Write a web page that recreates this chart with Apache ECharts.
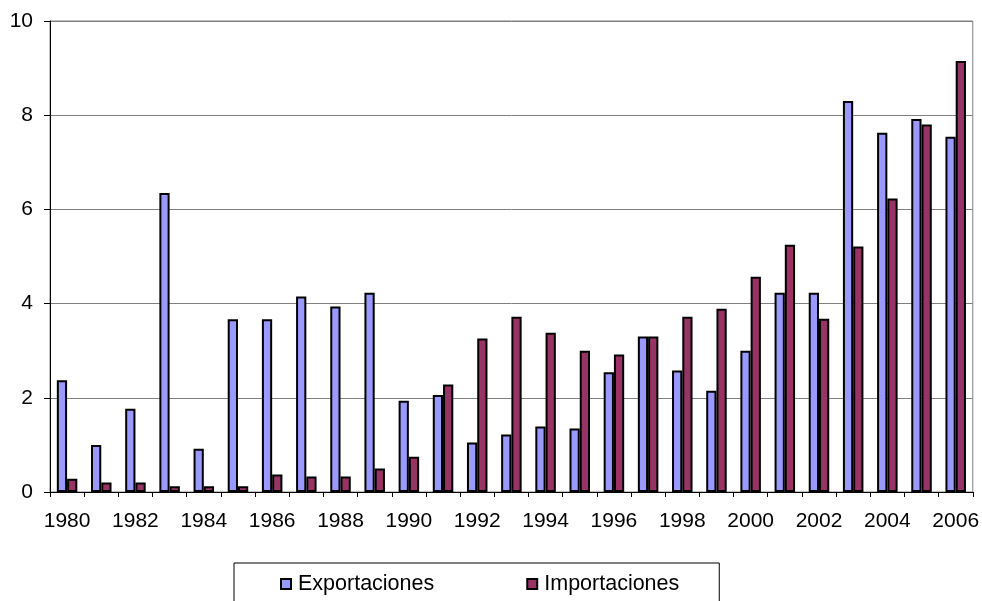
<!DOCTYPE html>
<html>
<head>
<meta charset="utf-8">
<script src="https://cdn.jsdelivr.net/npm/echarts@6/dist/echarts.min.js"></script>
<style>html,body{margin:0;padding:0;background:#fff}#c{width:982px;height:601px}</style>
</head>
<body>
<div id="c"></div>
<script>
const years = ['1980','1981','1982','1983','1984','1985','1986','1987','1988','1989','1990','1991','1992','1993','1994','1995','1996','1997','1998','1999','2000','2001','2002','2003','2004','2005','2006'];
const exportaciones = [2.37,1.0,1.77,6.35,0.92,3.67,3.67,4.15,3.94,4.23,1.94,2.06,1.05,1.22,1.39,1.35,2.54,3.3,2.58,2.15,3.0,4.23,4.23,8.3,7.63,7.92,7.54];
const importaciones = [0.28,0.2,0.2,0.12,0.12,0.12,0.37,0.33,0.33,0.5,0.75,2.28,3.26,3.72,3.38,3.0,2.92,3.3,3.72,3.89,4.57,5.25,3.68,5.21,6.23,7.8,9.15];
const yTicks = [0,2,4,6,8,10];

const FONT = 'Liberation Sans, Arial, sans-serif';
const chart = echarts.init(document.getElementById('c'), null, {renderer:'canvas'});
chart.setOption({
  animation: false,
  backgroundColor: '#fff',
  grid: {left: 50, right: 6, top: 21, bottom: 109, show: true, borderColor: '#808080', borderWidth: 1},
  legend: {
    left: 234, top: 563,
    padding: [10, 40, 20, 46],
    borderColor: '#000', borderWidth: 1,
    itemWidth: 10, itemHeight: 10, itemGap: 92,
    icon: 'rect',
    textStyle: {fontFamily: FONT, fontSize: 21.5, color: '#000', padding: [0, 0, 0, 2]},
    data: ['Exportaciones','Importaciones']
  },
  xAxis: {
    type: 'category', data: years, boundaryGap: true,
    axisLine: {lineStyle: {color: '#000', width: 1}},
    axisTick: {show: true, interval: 0, length: 5, lineStyle: {color: '#000'}},
    axisLabel: {interval: 1, color: '#000', fontFamily: FONT, fontSize: 21, margin: 19},
    splitLine: {show: false}
  },
  yAxis: {
    type: 'value', min: yTicks[0], max: yTicks[yTicks.length-1], interval: 2,
    axisLine: {show: true, lineStyle: {color: '#000', width: 1}},
    axisTick: {show: true, length: 6, lineStyle: {color: '#000'}},
    axisLabel: {color: '#000', fontFamily: FONT, fontSize: 21, margin: 17},
    splitLine: {show: true, lineStyle: {color: '#808080', width: 1}}
  },
  series: [
    {name: 'Exportaciones', type: 'bar', data: exportaciones, barWidth: '30%', barGap: '0%',
     itemStyle: {color: '#9999FF', borderColor: '#000', borderWidth: 2}},
    {name: 'Importaciones', type: 'bar', data: importaciones, barWidth: '30%', barGap: '0%',
     itemStyle: {color: '#993366', borderColor: '#000', borderWidth: 2}}
  ]
});
</script>
</body>
</html>
